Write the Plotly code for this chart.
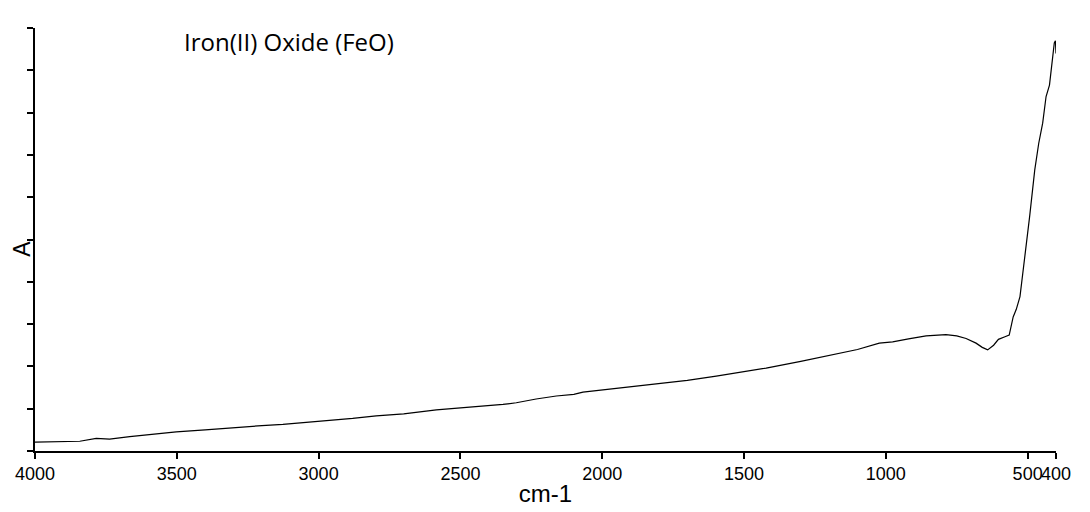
import plotly.graph_objects as go

wavenumber = [4000, 3900, 3842, 3784, 3737, 3666, 3600, 3502, 3400, 3314, 3200, 3126, 3050,
              2961, 2880, 2797, 2700, 2585, 2450, 2350, 2303, 2233, 2162, 2100, 2068, 1974,
              1880, 1786, 1700, 1598, 1500, 1422, 1300, 1187, 1100, 1023, 976, 920, 858, 788,
              750, 717, 682, 660, 641, 620, 603, 580, 565, 551, 540, 527, 511, 493, 475, 461,
              447, 435, 423, 414, 406, 402, 400]
absorbance = [0.21, 0.22, 0.23, 0.30, 0.28, 0.34, 0.39, 0.45, 0.50, 0.55, 0.60, 0.63, 0.67,
              0.72, 0.77, 0.83, 0.88, 0.97, 1.04, 1.10, 1.14, 1.23, 1.30, 1.34, 1.39, 1.46,
              1.53, 1.60, 1.67, 1.77, 1.88, 1.96, 2.12, 2.27, 2.40, 2.55, 2.58, 2.65, 2.72, 2.75,
              2.72, 2.66, 2.55, 2.45, 2.39, 2.50, 2.64, 2.70, 2.74, 3.17, 3.35, 3.65, 4.52, 5.54,
              6.64, 7.27, 7.75, 8.38, 8.65, 9.17, 9.65, 9.70, 9.40]

x_ticks = [4000, 3500, 3000, 2500, 2000, 1500, 1000, 500, 400]
x_tick_labels = ["4000", "3500", "3000", "2500", "2000", "1500", "1000", "500", "400"]
y_ticks = [0, 1, 2, 3, 4, 5, 6, 7, 8, 9, 10]

fig = go.Figure()
fig.add_trace(go.Scatter(x=wavenumber, y=absorbance, mode="lines",
                         line=dict(color="black", width=1.2), showlegend=False))

fig.update_layout(
    width=1090, height=512,
    margin=dict(l=27, r=42, t=20, b=69),
    paper_bgcolor="white", plot_bgcolor="white",
    font=dict(family="Liberation Sans, Arial, sans-serif", color="black"),
    annotations=[
        dict(text="Iron(II) Oxide (FeO)", xref="paper", yref="paper",
             x=0.144, y=0.967, xanchor="left", yanchor="middle", showarrow=False,
             font=dict(family="Open Sans, Noto Sans, sans-serif", size=24, color="black")),
        dict(text="A", xref="paper", yref="paper", textangle=-90,
             x=-0.0127, y=0.478, xanchor="center", yanchor="middle", showarrow=False,
             borderpad=0, font=dict(size=23, color="black")),
    ],
)
fig.update_xaxes(range=[4000, 400], tickvals=x_ticks, ticktext=x_tick_labels, tickangle=0,
                 showline=True, linecolor="black", linewidth=1.5, ticks="outside", ticklen=6,
                 tickcolor="black", tickwidth=1.5, showgrid=False, zeroline=False, automargin=False,
                 tickfont=dict(size=18), title=dict(text="cm-1", font=dict(size=24), standoff=2))
fig.update_yaxes(range=[0, 10], tickvals=y_ticks, showticklabels=False, automargin=False,
                 showline=True, linecolor="black", linewidth=1.5, ticks="outside", ticklen=6,
                 tickcolor="black", tickwidth=1.5, showgrid=False, zeroline=False)

fig.write_html("out.html")
